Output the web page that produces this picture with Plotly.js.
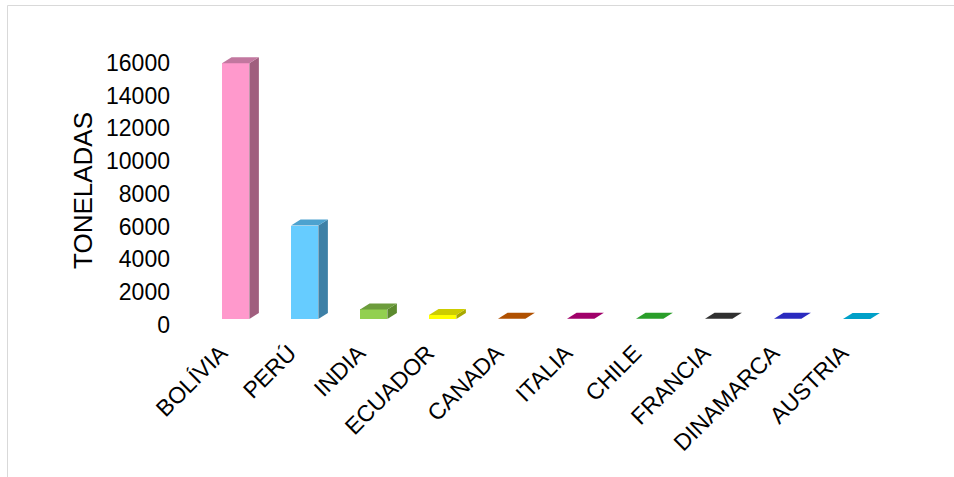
<!DOCTYPE html>
<html>
<head>
<meta charset="utf-8">
<script src="https://cdn.plot.ly/plotly-3.0.1.min.js"></script>
<style>
  html, body { margin: 0; padding: 0; background: #ffffff; }
  #chart { width: 954px; height: 477px; }
</style>
</head>
<body>
<div id="chart"></div>
<script>
// ---- Data ----
const countries = ['BOLÍVIA', 'PERÚ', 'INDIA', 'ECUADOR', 'CANADA', 'ITALIA', 'CHILE', 'FRANCIA', 'DINAMARCA', 'AUSTRIA'];
const toneladas = [15600, 5700, 580, 250, 20, 15, 15, 10, 10, 5];
const yTickValues = [0, 2000, 4000, 6000, 8000, 10000, 12000, 14000, 16000];
const yTickLabels = ['0', '2000', '4000', '6000', '8000', '10000', '12000', '14000', '16000'];
const yTitle = 'TONELADAS';

// ---- Colours ----
const frontColors = ['#FF99CC', '#66CCFF', '#92D050', '#FFFF00', '#C55A11', '#B8007A', '#2FA82F', '#3A3A3A', '#3030CC', '#00AED6'];
const topColors   = ['#C2779F', '#4DA2CF', '#6C9C3C', '#CCCC00', '#B05000', '#A0006A', '#2A9E2A', '#303030', '#2A2ABF', '#00A0C8'];
const sideColors  = ['#A05E7E', '#3D80A6', '#5C8A2E', '#A8A800', '#8A4000', '#800055', '#217E21', '#222222', '#20209A', '#0080A0'];

// ---- 3D look parameters (axis units) ----
const barWidth = 0.396;   // category units
const depthX = 0.138;     // category units
const depthY = 366;       // value units

const idx = countries.map((_, i) => i);
const traces = [];

// front faces: real bars
traces.push({
  type: 'bar',
  x: idx,
  y: toneladas,
  width: barWidth,
  marker: { color: frontColors, line: { width: 0 } },
  hoverinfo: 'skip',
  showlegend: false
});

// side and top faces derived from the same values
idx.forEach(i => {
  const v = toneladas[i];
  const xl = i - barWidth / 2, xr = i + barWidth / 2;
  traces.push({
    type: 'scatter', mode: 'lines', fill: 'toself',
    x: [xr, xr + depthX, xr + depthX, xr, xr],
    y: [0, depthY, v + depthY, v, 0],
    fillcolor: sideColors[i], line: { width: 0, color: sideColors[i] },
    hoverinfo: 'skip', showlegend: false
  });
  traces.push({
    type: 'scatter', mode: 'lines', fill: 'toself',
    x: [xl, xr, xr + depthX, xl + depthX, xl],
    y: [v, v, v + depthY, v + depthY, v],
    fillcolor: topColors[i], line: { width: 0, color: topColors[i] },
    hoverinfo: 'skip', showlegend: false
  });
});

const L = 180, R = 49, T = 40, B = 147;
const plotW = 954 - L - R, plotH = 477 - T - B;
const pxPerCat = 69;
const x0 = -(235.7 - L) / pxPerCat;
const pxPerUnit = 0.016394;
const yBottom = -(T + plotH - 319) / pxPerUnit;
const yTop = (319 - T) / pxPerUnit;

const fontFam = '"Liberation Sans", Arial, sans-serif';

const layout = {
  width: 954, height: 477,
  margin: { l: L, r: R, t: T, b: B, pad: 0 },
  paper_bgcolor: '#ffffff',
  plot_bgcolor: 'rgba(0,0,0,0)',
  bargap: 0,
  xaxis: {
    range: [x0, x0 + plotW / pxPerCat],
    tickmode: 'array', tickvals: idx, ticktext: countries,
    tickangle: -45,
    ticklabelshift: -15,
    ticklabelstandoff: 4,
    tickfont: { family: fontFam, size: 23, color: '#000000' },
    showgrid: false, zeroline: false, showline: false, ticks: '',
    automargin: false, fixedrange: true
  },
  yaxis: {
    range: [yBottom, yTop],
    tickmode: 'array', tickvals: yTickValues, ticktext: yTickLabels,
    ticklabelshift: 6,
    ticklabelstandoff: 9,
    tickfont: { family: fontFam, size: 23, color: '#000000' },
    showgrid: false, zeroline: false, showline: false, ticks: '',
    automargin: false, fixedrange: true
  },
  annotations: [
    { text: yTitle, xref: 'paper', yref: 'paper',
      x: (83 - L) / plotW, y: (T + plotH - 191) / plotH,
      xanchor: 'center', yanchor: 'middle', textangle: -90, showarrow: false,
      font: { family: fontFam, size: 26, color: '#000000' } }
  ],
  shapes: [
    { type: 'line', xref: 'paper', yref: 'paper',
      x0: (7.5 - L) / plotW, x1: 1.2, y0: (T + plotH - 5.5) / plotH, y1: (T + plotH - 5.5) / plotH,
      line: { color: '#d9d9d9', width: 1 } },
    { type: 'line', xref: 'paper', yref: 'paper',
      x0: (7.5 - L) / plotW, x1: (7.5 - L) / plotW, y0: -0.6, y1: (T + plotH - 5.5) / plotH,
      line: { color: '#d9d9d9', width: 1 } }
  ],
  showlegend: false
};

Plotly.newPlot('chart', traces, layout, { staticPlot: true, displayModeBar: false });
</script>
</body>
</html>
